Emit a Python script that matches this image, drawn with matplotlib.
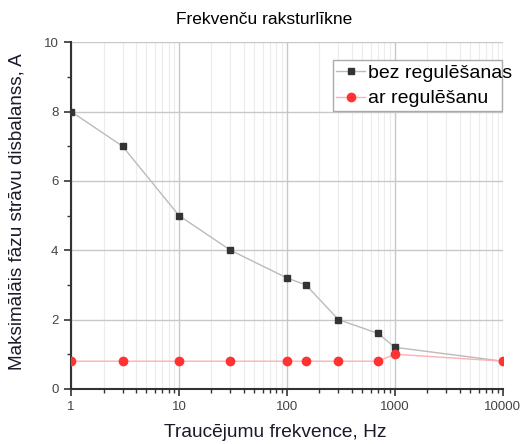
import matplotlib
matplotlib.use("Agg")
import matplotlib.pyplot as plt
from matplotlib.ticker import LogLocator, MultipleLocator, FixedLocator
from matplotlib.patches import Rectangle
import numpy as np

plt.rcParams['font.family'] = ['Liberation Sans', 'DejaVu Sans']

freq = [1, 3, 10, 30, 100, 150, 300, 700, 1000, 10000]
bez_reg = [8, 7, 5, 4, 3.2, 3, 2, 1.6, 1.2, 0.8]
ar_reg = [0.8, 0.8, 0.8, 0.8, 0.8, 0.8, 0.8, 0.8, 1.0, 0.8]
x_ticks = [1, 10, 100, 1000, 10000]
x_labels = ["1", "10", "100", "1000", "10000"]

fig = plt.figure(figsize=(5.26, 4.44), dpi=100)
ax = fig.add_axes([0.135, 0.124, 0.821, 0.781])

ax.plot(freq, bez_reg, color="#bbbbbb", lw=1, marker="s", ms=5,
        mfc="#333333", mec="#333333", label="bez regulēšanas", zorder=3)
ax.plot(freq, ar_reg, color="#ffb0b0", lw=1, marker="o", ms=6,
        mfc="#ff3333", mec="#ff3333", label="ar regulēšanu", zorder=3)

ax.set_xscale("log")
ax.set_xlim(1, 10000)
ax.set_ylim(0, 10)
ax.xaxis.set_major_locator(FixedLocator(x_ticks))
ax.xaxis.set_minor_locator(LogLocator(base=10, subs=np.arange(2, 10)))
ax.set_xticklabels(x_labels)
ax.yaxis.set_major_locator(MultipleLocator(2))
ax.yaxis.set_minor_locator(MultipleLocator(1))

ax.grid(True, which="major", color="#c8c8c8", lw=1)
ax.grid(True, which="minor", axis="x", color="#ececec", lw=0.8)
ax.set_axisbelow(True)

for s in ["top", "right"]:
    ax.spines[s].set_visible(False)
for s in ["left", "bottom"]:
    ax.spines[s].set_color("#333333")
    ax.spines[s].set_linewidth(1.5)

ax.tick_params(which="major", direction="out", length=5, width=1.2, color="#333333",
               labelcolor="#444444", labelsize=9.5, pad=4)
ax.tick_params(which="minor", direction="out", length=3, width=1, color="#333333")

fig.text(0.503, 0.957, "Frekvenču raksturlīkne", fontsize=12.5, ha="center", va="center")
ax.set_xlabel("Traucējumu frekvence, Hz", fontsize=13.8, color="#1a1a2a")
ax.xaxis.set_label_coords(0.472, -0.127)
ax.xaxis.label.set_va("center")
ax.set_ylabel("Maksimālāis fāzu strāvu disbalanss, A", fontsize=13.6, color="#1a1a2a")
ax.yaxis.set_label_coords(-0.124, 0.51)
ax.yaxis.label.set_va("center")

# legend frame drawn separately: text runs slightly past it in the original
frame = Rectangle((333 / 526, 1 - 111 / 444), 169 / 526, 51 / 444,
                  transform=fig.transFigure, facecolor="white",
                  edgecolor="#aaaaaa", lw=1, zorder=4, clip_on=False)
ax.add_patch(frame)
leg = ax.legend(loc="upper left", bbox_to_anchor=(336 / 526, 1 - 64 / 444),
                bbox_transform=fig.transFigure, fontsize=14, frameon=False,
                handlelength=1.5, borderpad=0, labelspacing=0.42, handletextpad=0.15,
                borderaxespad=0)
leg.set_zorder(5)

fig.savefig("out.png", dpi=100)
